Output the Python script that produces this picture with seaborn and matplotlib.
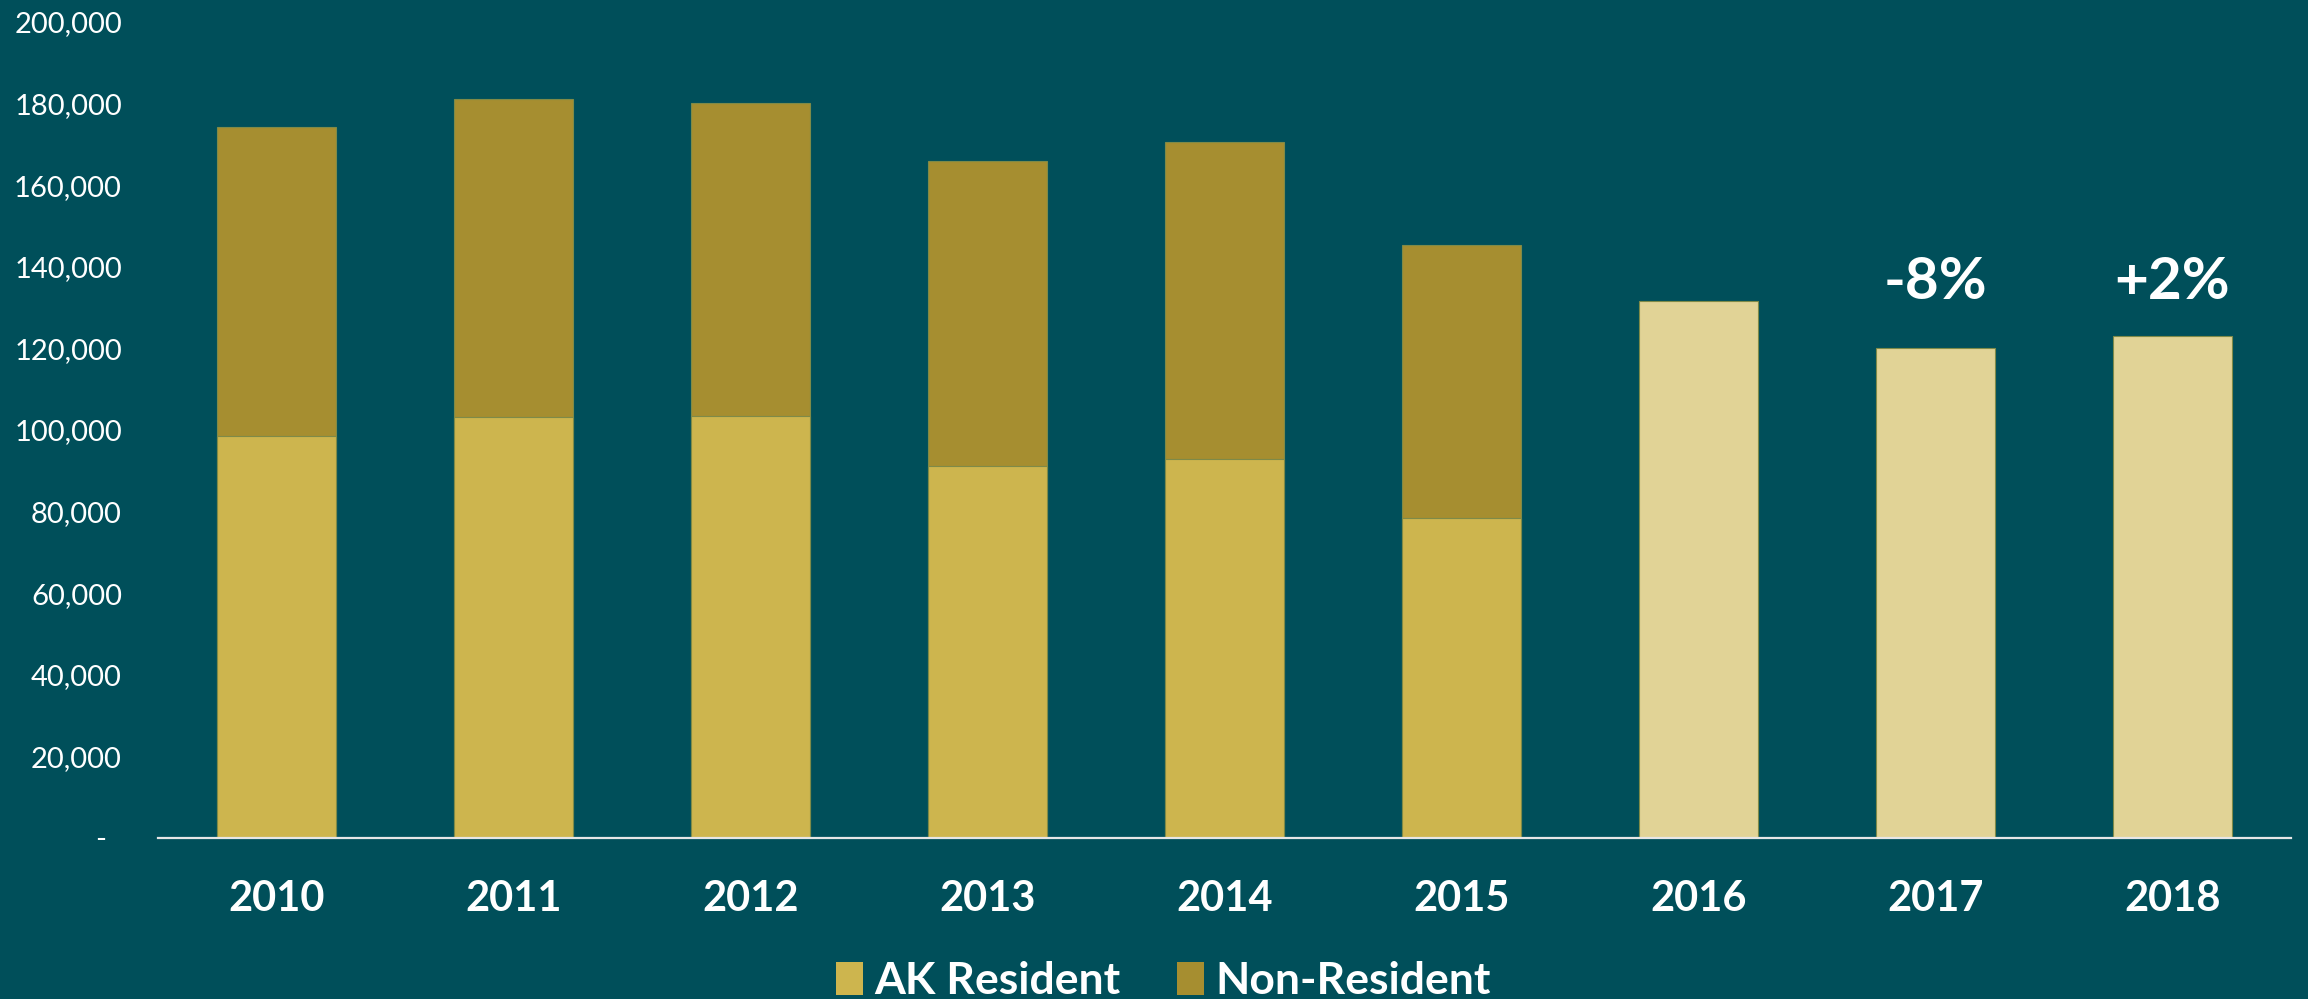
import matplotlib
matplotlib.use("Agg")
import matplotlib.pyplot as plt
from matplotlib.patches import Patch
import numpy as np
import pandas as pd
import seaborn as sns

# Visitors by year: totals, with the Alaska-resident share where it was reported
years = ["2010", "2011", "2012", "2013", "2014", "2015", "2016", "2017", "2018"]
total_visitors = [174300, 181200, 180100, 166000, 170700, 145400, 131600, 120200, 123000]
ak_residents = [98500, 103200, 103500, 91200, 93000, 78500, np.nan, np.nan, np.nan]
change_labels = {"2017": "-8%", "2018": "+2%"}
y_ticks = [0, 20000, 40000, 60000, 80000, 100000, 120000, 140000, 160000, 180000, 200000]

BG = "#004F5A"
AK_COLOR = "#CDB54E"
NONRES_COLOR = "#A68E30"
TOTAL_ONLY_COLOR = "#E1D396"
EDGE = "#7E8A48"

df = pd.DataFrame({"year": years, "total": total_visitors, "resident": ak_residents})
split = df["resident"].notna()
df["total_color"] = np.where(split, NONRES_COLOR, TOTAL_ONLY_COLOR)

sns.set_theme(style="white")
plt.rcParams["font.family"] = ["Lato", "DejaVu Sans"]

fig = plt.figure(figsize=(23.08, 9.99), dpi=100, facecolor=BG)
ax = fig.add_axes([0.06846, 0.1612, 0.92417, 0.8168])
ax.set_facecolor(BG)

# Full-height bars (non-resident on top of the stack, or total for later years)
sns.barplot(data=df, x="year", y="total", hue="year", order=years,
            palette=list(df["total_color"]), legend=False, width=0.5,
            edgecolor=EDGE, linewidth=0.8, saturation=1, ax=ax)
# Resident portion at the base of each stack
res = df[split]
sns.barplot(data=res, x="year", y="resident", order=years, color=AK_COLOR,
            width=0.5, edgecolor=EDGE, linewidth=0.8, saturation=1, ax=ax)

ax.set_xlim(-0.5, len(years) - 0.5)
ax.set_ylim(0, 200000)
ax.set_yticks(y_ticks)
ax.set_yticklabels(["-  " if v == 0 else f"{v:,}" for v in y_ticks])
ax.tick_params(axis="y", length=0, pad=26, labelsize=21, labelcolor="white")
ax.tick_params(axis="x", length=0, pad=30, labelsize=30, labelcolor="white")
for lbl in ax.get_xticklabels():
    lbl.set_fontweight("bold")
ax.set_xlabel("")
ax.set_ylabel("")

for side in ["top", "right", "left"]:
    ax.spines[side].set_visible(False)
ax.spines["bottom"].set_color("#E6E6E6")
ax.spines["bottom"].set_linewidth(1.6)
ax.grid(False)

# Year-over-year change labels above the latest bars
label_y = max(total_visitors[-2:]) + 9000
for yr, txt in change_labels.items():
    ax.text(years.index(yr), label_y, txt, ha="center", va="baseline",
            color="white", fontsize=42, fontweight="bold")

handles = [Patch(facecolor=AK_COLOR, edgecolor="none", label="AK Resident"),
           Patch(facecolor=NONRES_COLOR, edgecolor="none", label="Non-Resident")]
fig.legend(handles=handles, loc="lower center", bbox_to_anchor=(0.504, -0.002),
           ncol=2, frameon=False, handlelength=0.61, handleheight=0.79,
           handletextpad=0.25, columnspacing=1.28, borderpad=0, borderaxespad=0,
           labelcolor="white", prop={"weight": "bold", "size": 32})

fig.savefig("out.png", dpi=100, facecolor=BG)
